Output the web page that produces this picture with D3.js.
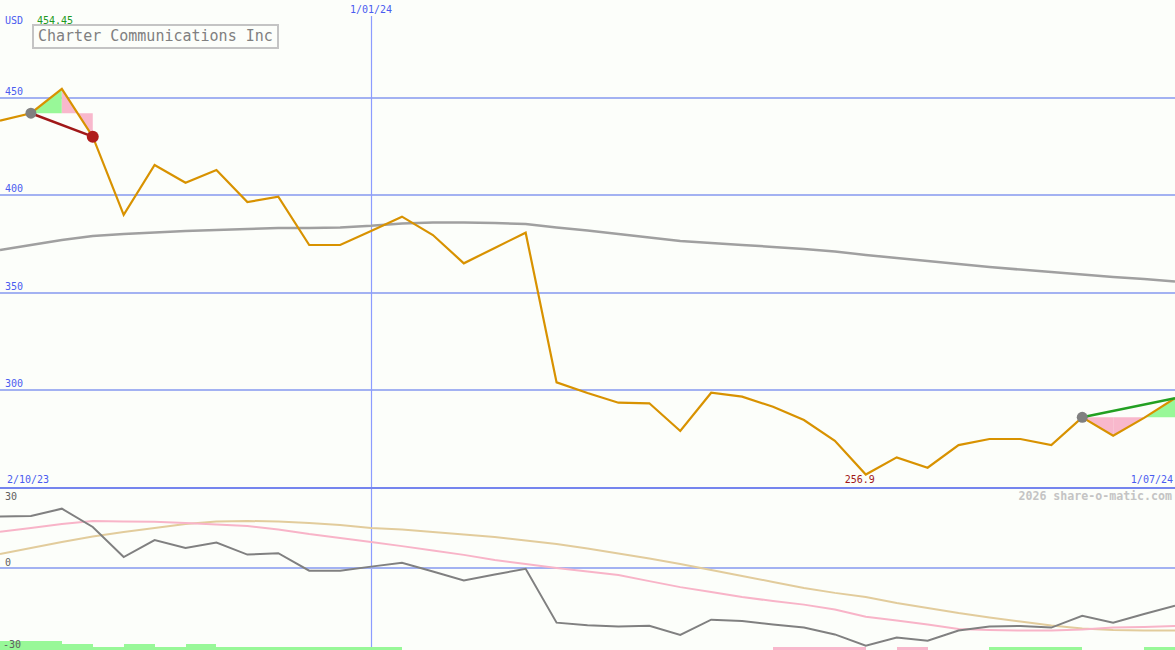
<!DOCTYPE html>
<html>
<head>
<meta charset="utf-8">
<script src="https://cdn.jsdelivr.net/npm/d3@7"></script>
<style>
  html, body { margin: 0; padding: 0; background: #fcfefa; }
  svg { display: block; }
  text { font-family: "DejaVu Sans Mono", "Liberation Mono", monospace; }
</style>
</head>
<body>
<svg id="chart" width="1175" height="650"></svg>
<script>
// ---- data (weekly points, index 0..38) ----
const title = "Charter Communications Inc";
const currency = "USD";
const dateLabels = ["2/10/23", "1/01/24", "1/07/24"];
const dateLabelIndex = [0, 12, 38];
const priceTicks = [300, 350, 400, 450];
const oscTicks = [30, 0, -30];
const maxLabel = "454.45";
const minLabel = "256.9";

const price = [438.2, 442.0, 454.45, 430.0, 389.9, 415.5, 406.4, 412.9, 396.5, 399.2,
  374.5, 374.5, 381.7, 389.0, 379.6, 365.1, 373.0, 380.8, 304.1, 298.7,
  293.7, 293.4, 279.2, 298.8, 296.8, 291.6, 284.8, 274.2, 256.9, 265.7,
  260.4, 272.0, 275.1, 275.1, 272.0, 286.2, 276.8, 285.9, 296.0];

const movingAvg = [371.9, 374.5, 377.0, 379.1, 380.1, 380.9, 381.7, 382.2, 382.7, 383.2,
  383.2, 383.5, 384.3, 385.5, 386.0, 386.0, 385.8, 385.2, 383.5, 381.9,
  380.1, 378.3, 376.5, 375.5, 374.5, 373.5, 372.4, 371.2, 369.4, 367.8,
  366.3, 364.8, 363.2, 361.9, 360.7, 359.4, 358.1, 357.1, 355.8];

const oscGray = [18.8, 19.0, 21.7, 15.0, 4.0, 10.2, 7.3, 9.3, 4.9, 5.4,
  -1.0, -1.0, 0.5, 1.9, -1.3, -4.6, -2.4, -0.3, -20.0, -20.9,
  -21.4, -21.1, -24.5, -18.9, -19.4, -20.7, -21.8, -24.3, -28.4, -25.4,
  -26.6, -22.9, -21.4, -21.2, -21.8, -17.5, -20.0, -16.8, -13.8];

const oscPink = [13.3, 14.6, 16.1, 17.2, 17.0, 16.9, 16.5, 15.9, 15.4, 14.1,
  12.4, 11.0, 9.5, 8.0, 6.4, 4.8, 2.9, 1.5, 0.0, -1.3,
  -2.6, -4.8, -7.0, -8.8, -10.6, -12.1, -13.4, -15.2, -17.8, -19.2,
  -20.7, -22.3, -22.7, -22.9, -22.9, -22.5, -21.8, -21.6, -21.2];

const oscTan = [5.1, 7.3, 9.5, 11.5, 13.2, 14.6, 16.1, 17.0, 17.2, 17.0,
  16.5, 15.7, 14.6, 14.1, 13.2, 12.3, 11.3, 10.1, 8.8, 7.1,
  5.3, 3.5, 1.5, -0.7, -2.9, -5.1, -7.3, -9.1, -10.6, -12.8,
  -14.6, -16.5, -18.1, -19.6, -21.0, -22.1, -22.7, -22.9, -22.9];

const signalBars = [3, 3, 2, 1, 2, 1, 2, 1, 1, 1, 1, 1, 1,
  0, 0, 0, 0, 0, 0, 0, 0, 0, 0, 0, 0,
  -1, -1, -1, 0, -1, 0, 0, 1, 1, 1, 0, 0, 1, 0];

const trendWindows = [[1, 3], [35, 38]];

// ---- drawing ----
const W = 1175, H = 650;
const svg = d3.select("#chart");
const idx = d3.range(price.length);

const x = d3.scaleLinear().domain([0, price.length - 1]).range([0, W]);
const y = d3.scaleLinear().domain([250, 500]).range([488, 0]);
const yo = d3.scaleLinear().domain([-30, 30]).range([650, 486]);
const yb = d3.scaleLinear().domain([0, 3]).range([650, 641]);

svg.append("rect").attr("width", W).attr("height", H).attr("fill", "#fcfefa");

const gridColor = "#a3b2f2";
const labelBlue = "#4a5cf0";

// price grid
svg.selectAll(".pgrid").data(priceTicks).join("line")
  .attr("x1", 0).attr("x2", W)
  .attr("y1", d => y(d)).attr("y2", d => y(d))
  .attr("stroke", gridColor).attr("stroke-width", 2).attr("shape-rendering", "crispEdges");
svg.selectAll(".plab").data(priceTicks).join("text")
  .attr("x", 5).attr("y", d => y(d) - 3)
  .attr("font-size", 10).attr("fill", labelBlue).text(d => d);

// vertical date line (1/01/24)
const vx = Math.round(x(dateLabelIndex[1])) + 0.5;
svg.append("line")
  .attr("x1", vx).attr("x2", vx)
  .attr("y1", 16).attr("y2", H)
  .attr("stroke", "#8c9cff").attr("stroke-width", 1.2);

// lower panel zero line
svg.append("line")
  .attr("x1", 0).attr("x2", W).attr("y1", yo(0)).attr("y2", yo(0))
  .attr("stroke", gridColor).attr("stroke-width", 2).attr("shape-rendering", "crispEdges");

// signal bars
svg.selectAll(".sbar").data(idx.filter(i => signalBars[i] !== 0)).join("rect")
  .attr("x", i => x(i)).attr("width", i => x(i + 1) - x(i))
  .attr("y", i => yb(Math.abs(signalBars[i])))
  .attr("height", i => yb(0) - yb(Math.abs(signalBars[i])))
  .attr("fill", i => signalBars[i] > 0 ? "#98f898" : "#f8b8cc")
  .attr("shape-rendering", "crispEdges");

// lower panel labels
svg.selectAll(".olab").data(oscTicks).join("text")
  .attr("x", d => d < 0 ? 3 : 5)
  .attr("y", d => d === 30 ? yo(d) + 14 : yo(d) - 2)
  .attr("font-size", 10).attr("fill", "#606060").text(d => d);

// oscillator lines
const oscLine = d3.line().x((d, i) => x(i)).y(d => yo(d));
svg.append("path").datum(oscTan).attr("d", oscLine)
  .attr("fill", "none").attr("stroke", "#e2cc9c").attr("stroke-width", 2);
svg.append("path").datum(oscPink).attr("d", oscLine)
  .attr("fill", "none").attr("stroke", "#f8b4c8").attr("stroke-width", 2);
svg.append("path").datum(oscGray).attr("d", oscLine)
  .attr("fill", "none").attr("stroke", "#808080").attr("stroke-width", 2);

// moving average
const pLine = d3.line().x((d, i) => x(i)).y(d => y(d));
svg.append("path").datum(movingAvg).attr("d", pLine)
  .attr("fill", "none").attr("stroke", "#a0a0a0").attr("stroke-width", 2.5);

// trend windows fills
trendWindows.forEach(([s, e]) => {
  const base = price[s];
  for (let i = s; i < e; i++) {
    const pts = [[x(i), y(base)], [x(i), y(price[i])], [x(i + 1), y(price[i + 1])], [x(i + 1), y(base)]];
    svg.append("polygon")
      .attr("points", pts.map(p => p.join(",")).join(" "))
      .attr("fill", price[i + 1] > base ? "#98f898" : "#f8b8cc");
  }
});

// price line
svg.append("path").datum(price).attr("d", pLine)
  .attr("fill", "none").attr("stroke", "#d89200").attr("stroke-width", 2.2)
  .attr("stroke-linejoin", "miter");

// trend lines + markers
trendWindows.forEach(([s, e]) => {
  const up = price[e] > price[s];
  svg.append("line")
    .attr("x1", x(s)).attr("y1", y(price[s]))
    .attr("x2", x(e)).attr("y2", y(price[e]))
    .attr("stroke", up ? "#22a022" : "#a01818").attr("stroke-width", 2.5);
  svg.append("circle").attr("cx", x(s)).attr("cy", y(price[s])).attr("r", 5.5).attr("fill", "#808080");
  if (!up) {
    svg.append("circle").attr("cx", x(e)).attr("cy", y(price[e])).attr("r", 6).attr("fill", "#b01c1c");
  }
});

// bottom axis line of price panel
svg.append("line")
  .attr("x1", 0).attr("x2", W).attr("y1", y(250)).attr("y2", y(250))
  .attr("stroke", "#7585ee").attr("stroke-width", 2.5).attr("shape-rendering", "crispEdges");

// date labels
svg.append("text").attr("x", x(dateLabelIndex[0]) + 7).attr("y", 483)
  .attr("font-size", 10).attr("fill", labelBlue).text(dateLabels[0]);
svg.append("text").attr("x", x(dateLabelIndex[1])).attr("y", 13).attr("text-anchor", "middle")
  .attr("font-size", 10).attr("fill", labelBlue).text(dateLabels[1]);
svg.append("text").attr("x", x(dateLabelIndex[2]) - 2).attr("y", 483).attr("text-anchor", "end")
  .attr("font-size", 10).attr("fill", labelBlue).text(dateLabels[2]);

// min / max labels
const iMin = price.indexOf(d3.min(price));
svg.append("text").attr("x", x(iMin) - 6).attr("y", 483).attr("text-anchor", "middle")
  .attr("font-size", 10).attr("fill", "#a01818").text(minLabel);
svg.append("text").attr("x", 37).attr("y", 24)
  .attr("font-size", 10).attr("fill", "#209a20").text(maxLabel);
svg.append("text").attr("x", 5).attr("y", 24)
  .attr("font-size", 10).attr("fill", labelBlue).text(currency);

// title box
svg.append("rect").attr("x", 33).attr("y", 25).attr("width", 245).attr("height", 23)
  .attr("fill", "#fcfefa").attr("stroke", "#c4c4c4").attr("stroke-width", 2);
svg.append("text").attr("x", 38).attr("y", 41)
  .attr("font-size", 15).attr("fill", "#808080").text(title);

// watermark
svg.append("text").attr("x", 1172).attr("y", 500).attr("text-anchor", "end")
  .attr("font-size", 11.6).attr("font-weight", "bold").attr("fill", "#c4c4c4")
  .text("2026 share-o-matic.com");
</script>
</body>
</html>
